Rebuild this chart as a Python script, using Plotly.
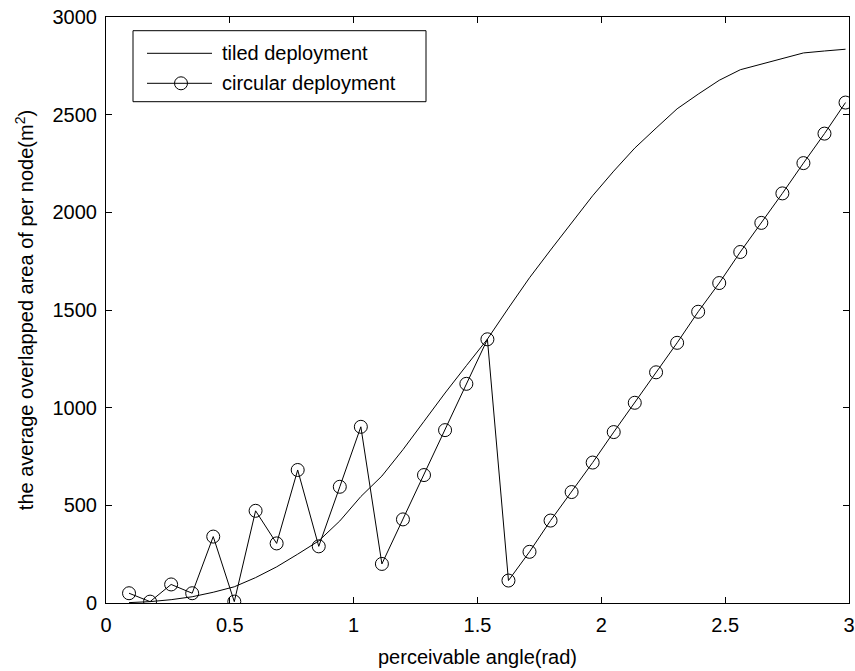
import plotly.graph_objects as go

# perceivable angle (rad) sample points
angle = [0.093, 0.178, 0.263, 0.348, 0.433, 0.518, 0.604, 0.689, 0.774, 0.859,
         0.944, 1.029, 1.114, 1.199, 1.284, 1.369, 1.455, 1.540, 1.625, 1.710,
         1.795, 1.880, 1.965, 2.050, 2.135, 2.221, 2.306, 2.391, 2.476, 2.561,
         2.646, 2.731, 2.816, 2.901, 2.986]

tiled = [2, 7, 17, 32, 55, 83, 130, 185, 250, 318,
         420, 545, 650, 785, 930, 1075, 1215, 1351, 1510, 1665,
         1807, 1946, 2085, 2211, 2329, 2431, 2530, 2605, 2676, 2730,
         2759, 2788, 2816, 2826, 2835]

circular = [50, 7, 95, 50, 340, 7, 472, 305, 681, 290,
            595, 902, 200, 428, 655, 885, 1122, 1350, 115, 262,
            422, 568, 719, 875, 1025, 1181, 1332, 1491, 1638, 1797,
            1946, 2097, 2252, 2403, 2562]

series_names = ["tiled deployment", "circular deployment"]
x_ticks = [0, 0.5, 1, 1.5, 2, 2.5, 3]
x_tick_labels = ["0", "0.5", "1", "1.5", "2", "2.5", "3"]
y_ticks = [0, 500, 1000, 1500, 2000, 2500, 3000]
y_tick_labels = ["0", "500", "1000", "1500", "2000", "2500", "3000"]

FONT = "Liberation Sans, Arial, sans-serif"
FS = 20

fig = go.Figure()
fig.add_trace(go.Scatter(x=angle, y=tiled, mode="lines", name=series_names[0],
                         line=dict(color="black", width=1)))
fig.add_trace(go.Scatter(x=angle, y=circular, mode="lines+markers", name=series_names[1],
                         line=dict(color="black", width=1),
                         marker=dict(symbol="circle-open", size=13, color="black",
                                     line=dict(width=1, color="black"))))

axis_common = dict(showline=True, linecolor="black", linewidth=1, mirror="ticks",
                   ticks="inside", ticklen=6, tickcolor="black", tickwidth=1,
                   showgrid=False, zeroline=False,
                   tickfont=dict(family=FONT, size=FS, color="black"))

fig.update_xaxes(range=[0, 3], tickvals=x_ticks, ticktext=x_tick_labels,
                 title=dict(text="perceivable angle(rad)", font=dict(family=FONT, size=FS, color="black"), standoff=14),
                 ticklabelstandoff=4, **axis_common)
fig.update_yaxes(range=[0, 3000], tickvals=y_ticks, ticktext=y_tick_labels,
                 title=dict(text="the average overlapped area of per node(m<sup>2</sup>)",
                            font=dict(family=FONT, size=FS, color="black"), standoff=13),
                 ticklabelstandoff=4, **axis_common)

# legend drawn as a box like the original
L, R, T, B = 106, 849, 17, 603
W, H = R - L, B - T
def px(x):
    return (x - L) / W
def py(y):
    return (B - y) / H

shapes = [
    dict(type="rect", xref="paper", yref="paper", x0=px(133), x1=px(426), y0=py(101.7), y1=py(30.7),
         line=dict(color="black", width=1), fillcolor="white", layer="above"),
    dict(type="line", xref="paper", yref="paper", x0=px(147), x1=px(212), y0=py(53.3), y1=py(53.3),
         line=dict(color="black", width=1), layer="above"),
    dict(type="line", xref="paper", yref="paper", x0=px(147), x1=px(212), y0=py(83.3), y1=py(83.3),
         line=dict(color="black", width=1), layer="above"),
    dict(type="circle", xref="paper", yref="paper", x0=px(181 - 6.5), x1=px(181 + 6.5),
         y0=py(83.3 + 6.5), y1=py(83.3 - 6.5), line=dict(color="black", width=1), layer="above"),
]
annotations = [
    dict(text=series_names[0], xref="paper", yref="paper", x=px(220), y=py(53.3), xanchor="left",
         yanchor="middle", showarrow=False, font=dict(family=FONT, size=FS, color="black")),
    dict(text=series_names[1], xref="paper", yref="paper", x=px(220), y=py(83.3), xanchor="left",
         yanchor="middle", showarrow=False, font=dict(family=FONT, size=FS, color="black")),
]

fig.update_layout(width=855, height=671, showlegend=False,
                  margin=dict(l=L, r=855 - R, t=T, b=671 - B, autoexpand=False),
                  paper_bgcolor="white", plot_bgcolor="white",
                  shapes=shapes, annotations=annotations)

fig.write_html("out.html", config={"displayModeBar": False},
               post_script="document.body.style.margin='0';document.body.style.overflow='hidden';")
